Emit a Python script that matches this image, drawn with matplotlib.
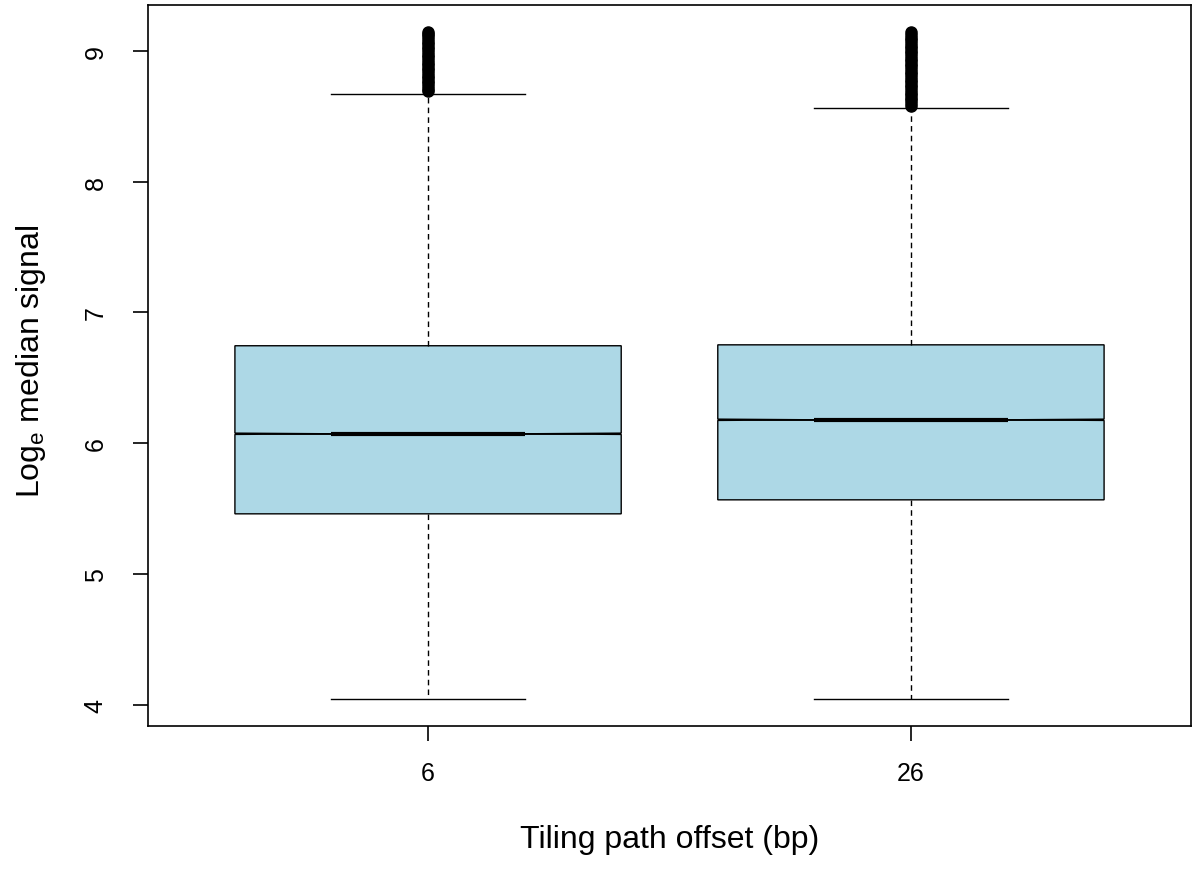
import matplotlib
matplotlib.use("Agg")
import matplotlib.pyplot as plt

plt.rcParams['font.family'] = ['Liberation Sans', 'DejaVu Sans']
plt.rcParams['mathtext.fontset'] = 'custom'
plt.rcParams['mathtext.rm'] = 'Liberation Sans'
plt.rcParams['mathtext.it'] = 'Liberation Sans'

# Data
categories = ["6", "26"]
whisker_low = [4.046, 4.046]
q1_values = [5.460, 5.567]
medians = [6.072, 6.179]
q3_values = [6.745, 6.752]
whisker_high = [8.671, 8.564]
notch_half = [0.005, 0.005]
outliers_6 = [8.69, 8.71, 8.73, 8.75, 8.77, 8.79, 8.81, 8.83, 8.85, 8.87, 8.89,
              8.91, 8.93, 8.95, 8.97, 8.99, 9.01, 9.03, 9.05, 9.07, 9.09, 9.11, 9.13, 9.145]
outliers_26 = [8.58, 8.60, 8.62, 8.64, 8.66, 8.68, 8.70, 8.72, 8.74, 8.76, 8.78, 8.80,
               8.82, 8.84, 8.86, 8.88, 8.90, 8.92, 8.94, 8.96, 8.98, 9.00, 9.02, 9.04,
               9.06, 9.08, 9.10, 9.12, 9.145]
outliers = [outliers_6, outliers_26]

stats = []
for i, lab in enumerate(categories):
    stats.append(dict(label=lab, whislo=whisker_low[i], q1=q1_values[i], med=medians[i],
                      q3=q3_values[i], whishi=whisker_high[i],
                      cilo=medians[i] - notch_half[i], cihi=medians[i] + notch_half[i],
                      fliers=outliers[i]))

fig = plt.figure(figsize=(12, 8.7), dpi=100)
ax = fig.add_axes([148/1200, 1 - 727/870, (1191-148)/1200, (727-6)/870])

ax.bxp(stats, positions=[1, 2], widths=0.8, shownotches=True, patch_artist=True,
       boxprops=dict(facecolor='#ADD8E6', edgecolor='black', linewidth=1.0),
       medianprops=dict(color='black', linewidth=3.0, solid_capstyle='butt'),
       whiskerprops=dict(color='black', linewidth=1.0, linestyle=(0, (4, 3))),
       capprops=dict(color='black', linewidth=1.0),
       flierprops=dict(marker='o', markerfacecolor='black', markeredgecolor='black',
                       markersize=8, linestyle='none'))

ax.set_xlim(0.42, 2.58)
ax.set_ylim(3.838, 9.35)
ax.set_yticks([4, 5, 6, 7, 8, 9])
ax.set_yticklabels(["4", "5", "6", "7", "8", "9"], rotation=90, va='center')
ax.set_xticks([1, 2])
ax.set_xticklabels(categories)

for s in ax.spines.values():
    s.set_linewidth(1.2)
ax.tick_params(axis='both', direction='out', length=11, width=1.2, labelsize=18, color='black')
ax.tick_params(axis='y', pad=18)
ax.tick_params(axis='x', pad=14)

ax.set_xlabel("Tiling path offset (bp)", fontsize=23)
ax.xaxis.label.set_va('center')
ax.xaxis.set_label_coords(0.5, -(840 - 727) / 721)
ax.set_ylabel("Log$_{\\mathrm{e}}$ median signal", fontsize=23)
ax.yaxis.label.set_va('center')
ax.yaxis.set_label_coords(-(148 - 31) / 1043, 0.5 + (366 - 361) / 721)

fig.savefig("out.png", dpi=100)
